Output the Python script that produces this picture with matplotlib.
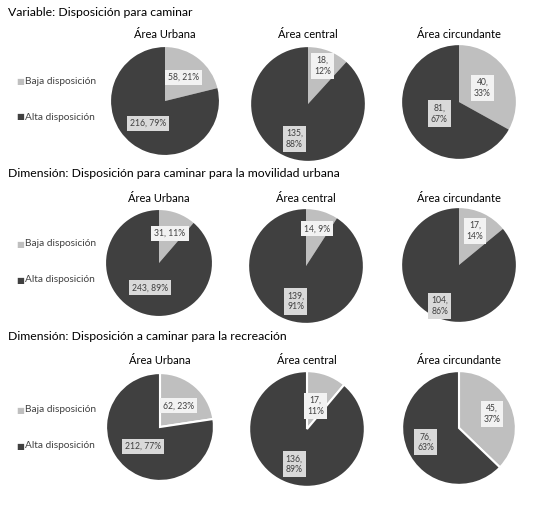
import matplotlib
matplotlib.use("Agg")
import matplotlib.pyplot as plt
import numpy as np

plt.rcParams['font.family'] = ['Lato', 'DejaVu Sans']

W, H = 542, 508

row_titles = [
    "Variable: Disposición para caminar",
    "Dimensión: Disposición para caminar para la movilidad urbana",
    "Dimensión: Disposición a caminar para la recreación",
]
areas = ["Área Urbana", "Área central", "Área circundante"]
categories = ["Baja disposición", "Alta disposición"]

# counts [Baja, Alta] per row, per area
baja = [[58, 18, 40], [31, 14, 17], [62, 17, 45]]
alta = [[216, 135, 81], [243, 139, 104], [212, 136, 76]]
pct_baja = [[21, 12, 33], [11, 9, 14], [23, 11, 37]]
pct_alta = [[79, 88, 67], [89, 91, 86], [77, 89, 63]]
# label wrapped on two lines?
wrap_baja = [[False, True, True], [False, False, True], [False, True, True]]
wrap_alta = [[False, True, True], [False, True, True], [False, True, True]]

colors = ["#bfbfbf", "#404040"]
box_colors = ["#f2f2f2", "#d9d9d9"]
text_color = "#404040"

# layout: radial label distance (fraction of radius)
dist_baja = [[0.55, 0.72, 0.48], [0.6, 0.68, 0.66], [0.52, 0.42, 0.63]]
dist_alta = [[0.52, 0.66, 0.4], [0.5, 0.65, 0.8], [0.48, 0.65, 0.64]]

fig = plt.figure(figsize=(W / 100, H / 100), dpi=100)
fig.patch.set_facecolor("white")

def px_text(x, y, s, **kw):
    fig.text(x / W, 1 - y / H, s, **kw)

row_title_y = [12, 173, 337]
sub_y = [34, 198, 360]
centers = [
    [(165, 101), (308, 104), (459, 102)],
    [(159, 263), (306, 266), (459, 265)],
    [(160, 427), (307, 429), (459, 428)],
]
radii = [[55, 58, 58], [54, 58, 58], [55, 59, 58]]
legend_y = [[82, 117], [244, 280], [410, 446]]
edge = [False, False, True]

for i in range(3):
    px_text(8, row_title_y[i], row_titles[i], fontsize=8.8, color="black",
            va="center", ha="left")
    for k, cat in enumerate(categories):
        px_text(16, legend_y[i][k], "■", fontsize=6, color=colors[k],
                va="center", ha="left", family="DejaVu Sans")
        px_text(25, legend_y[i][k], cat, fontsize=7.3, color=text_color,
                va="center", ha="left")
    for j in range(3):
        cx, cy = centers[i][j]
        r = radii[i][j]
        px_text(cx, sub_y[i], areas[j], fontsize=8, color="black",
                va="center", ha="center")
        ax = fig.add_axes([(cx - r) / W, 1 - (cy + r) / H, 2 * r / W, 2 * r / H])
        vals = [baja[i][j], alta[i][j]]
        wp = dict(edgecolor="white", linewidth=1.5) if edge[i] else dict(linewidth=0)
        wedges, _ = ax.pie(vals, colors=colors, startangle=90, counterclock=False,
                           radius=1, wedgeprops=wp)
        ax.set_xlim(-1.02, 1.02)
        ax.set_ylim(-1.02, 1.02)
        ax.axis("off")
        labs = [
            (baja[i][j], pct_baja[i][j], wrap_baja[i][j]),
            (alta[i][j], pct_alta[i][j], wrap_alta[i][j]),
        ]
        dists = [dist_baja[i][j], dist_alta[i][j]]
        for k, w in enumerate(wedges):
            ang = np.deg2rad((w.theta1 + w.theta2) / 2)
            n, p, wr = labs[k]
            sep = ",\n" if wr else ", "
            s = f"{n}{sep}{p}%"
            ax.text(dists[k] * np.cos(ang), dists[k] * np.sin(ang), s,
                    ha="center", va="center", fontsize=6.2, color=text_color,
                    linespacing=1.3, zorder=5,
                    bbox=dict(boxstyle="square,pad=0.35", facecolor=box_colors[k],
                              edgecolor="none"))

fig.savefig("out.png", dpi=100, facecolor="white")
